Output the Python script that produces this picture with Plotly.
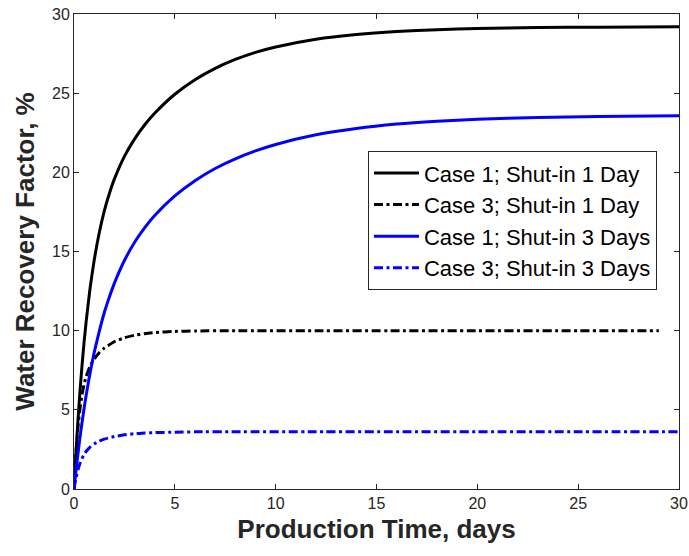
import plotly.graph_objects as go

# Case 1; Shut-in 1 Day (black solid)
t_c1_1d = [0, 0.1, 0.2, 0.3, 0.4, 0.5, 0.6, 0.8, 1.0, 1.25, 1.5, 1.75, 2.0, 2.5, 3.0, 3.5,
           4, 5, 6, 7, 8, 9, 10, 12, 14, 16, 18, 20, 23, 26, 30]
v_c1_1d = [0, 2.34, 4.40, 6.22, 7.84, 9.27, 10.54, 12.71, 14.44, 16.17, 17.55, 18.65,
           19.57, 21.01, 22.10, 22.99, 23.73, 24.93, 25.85, 26.57, 27.13, 27.58, 27.92,
           28.41, 28.71, 28.90, 29.01, 29.08, 29.14, 29.17, 29.19]

# Case 3; Shut-in 1 Day (black dash-dot)
t_c3_1d = [0, 0.05, 0.1, 0.2, 0.3, 0.4, 0.5, 0.6, 0.8, 1.0, 1.25, 1.5, 2.0, 2.5, 3, 3.5,
           4, 5, 6, 8, 12, 16, 20, 25, 29]
v_c3_1d = [0, 1.26, 2.31, 3.94, 5.11, 5.97, 6.60, 7.09, 7.77, 8.21, 8.61, 8.90, 9.30,
           9.55, 9.71, 9.81, 9.88, 9.95, 9.98, 10.0, 10.0, 10.0, 10.0, 10.0, 10.0]

# Case 1; Shut-in 3 Days (blue solid)
t_c1_3d = [0, 0.1, 0.2, 0.3, 0.4, 0.5, 0.6, 0.8, 1.0, 1.25, 1.5, 1.75, 2.0, 2.5, 3.0, 3.5,
           4, 5, 6, 7, 8, 9, 10, 12, 14, 16, 18, 20, 23, 26, 30]
v_c1_3d = [0, 1.18, 2.26, 3.28, 4.22, 5.08, 5.89, 7.35, 8.61, 9.94, 11.13, 12.11, 12.99,
           14.43, 15.57, 16.49, 17.27, 18.51, 19.47, 20.24, 20.85, 21.35, 21.76, 22.37,
           22.77, 23.05, 23.23, 23.35, 23.46, 23.53, 23.57]

# Case 3; Shut-in 3 Days (blue dash-dot)
t_c3_3d = [0, 0.05, 0.1, 0.2, 0.3, 0.4, 0.5, 0.6, 0.8, 1.0, 1.25, 1.5, 2.0, 2.5, 3, 3.5,
           4, 5, 6, 8, 12, 16, 20, 25, 30]
v_c3_3d = [0, 0.38, 0.70, 1.22, 1.62, 1.93, 2.17, 2.37, 2.65, 2.85, 3.02, 3.15, 3.31,
           3.42, 3.49, 3.53, 3.56, 3.59, 3.61, 3.62, 3.62, 3.62, 3.62, 3.62, 3.62]

names = ["Case 1; Shut-in 1 Day", "Case 3; Shut-in 1 Day",
         "Case 1; Shut-in 3 Days", "Case 3; Shut-in 3 Days"]

x_ticks = [0, 5, 10, 15, 20, 25, 30]
y_ticks = [0, 5, 10, 15, 20, 25, 30]

DASHDOT = "9px,3.5px,3px,3.5px"
series = [
    (t_c1_1d, v_c1_1d, names[0], "#000000", "solid"),
    (t_c3_1d, v_c3_1d, names[1], "#000000", DASHDOT),
    (t_c1_3d, v_c1_3d, names[2], "#0000FF", "solid"),
    (t_c3_3d, v_c3_3d, names[3], "#0000FF", DASHDOT),
]

fig = go.Figure()
for tx, vy, nm, col, dash in series:
    fig.add_trace(go.Scatter(
        x=tx, y=vy, name=nm, mode="lines",
        line=dict(color=col, width=3, dash=dash, shape="spline", smoothing=0.5),
    ))

axis_col = "#262626"
font_fam = "Liberation Sans, Arial, Helvetica, sans-serif"

fig.update_layout(
    width=689, height=556,
    margin=dict(l=74, r=10, t=14, b=67, autoexpand=False),
    paper_bgcolor="white", plot_bgcolor="white",
    font=dict(family=font_fam, color=axis_col, size=16),
    showlegend=True,
    legend=dict(
        x=0.9636, xanchor="right", y=0.565, yanchor="middle",
        bgcolor="white", bordercolor=axis_col, borderwidth=1,
        font=dict(size=22, color="#000000", family=font_fam),
        itemwidth=45,
    ),
)
fig.update_xaxes(
    range=[0, 30], tickvals=x_ticks, ticktext=[str(v) for v in x_ticks],
    ticks="inside", ticklen=5, tickcolor=axis_col, tickwidth=1,
    showline=True, linecolor=axis_col, linewidth=1, mirror="ticks",
    showgrid=False, zeroline=False, automargin=False,
    tickfont=dict(size=16, color=axis_col),
    title=dict(text="<b>Production Time, days</b>", font=dict(size=26, color=axis_col), standoff=8),
)
fig.update_yaxes(
    range=[0, 30], tickvals=y_ticks, ticktext=[str(v) for v in y_ticks],
    ticks="inside", ticklen=5, tickcolor=axis_col, tickwidth=1,
    showline=True, linecolor=axis_col, linewidth=1, mirror="ticks",
    showgrid=False, zeroline=False, automargin=False,
    tickfont=dict(size=16, color=axis_col),
    title=dict(text="<b>Water Recovery Factor, %</b>", font=dict(size=26, color=axis_col), standoff=9),
)

fig.write_html(
    "out.html",
    config={"displayModeBar": False},
    post_script="document.body.style.margin='0';document.body.style.padding='0';",
)
